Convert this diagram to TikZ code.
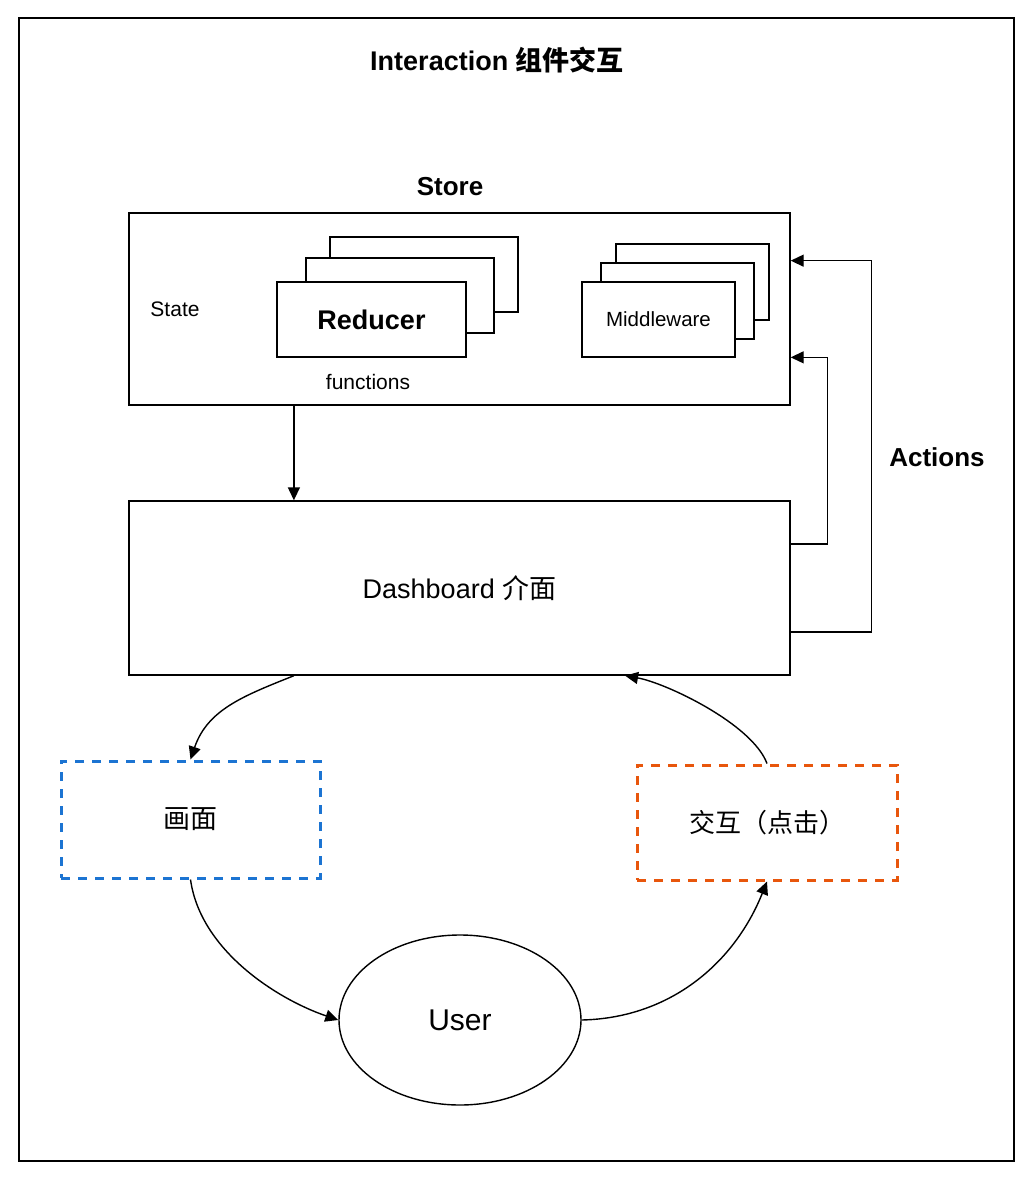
\documentclass[tikz,border=0pt]{standalone}
\usepackage{fontspec}
\setmainfont{Liberation Sans}
\newfontfamily\cjk{Noto Sans CJK SC}
\usepackage{tikz}
\usetikzlibrary{arrows.meta,shapes.geometric,calc}

\definecolor{viewblue}{RGB}{28,116,210}
\definecolor{clickorange}{RGB}{232,86,12}

\begin{document}
\begin{tikzpicture}[x=1pt, y=-1pt,
  box/.style={rectangle, draw, fill=white, line width=1.4pt, inner sep=0pt},
  dashbox/.style={rectangle, draw, dash pattern=on 9pt off 8pt, line width=3pt, inner sep=0pt, minimum width=259pt},
  arr/.style={-{Triangle[length=13pt,width=12pt]}, line width=1.4pt},
  big/.style={font=\fontsize{27}{31}\selectfont},
  small/.style={font=\fontsize{21}{25}\selectfont}]

\useasboundingbox (0,0) rectangle (1032,1186);
\draw[line width=1.5pt] (19,18) rectangle (1014,1161);

\draw
(497,60) node[font=\bfseries\fontsize{27}{31}\selectfont] (title){Interaction {\cjk 组件交互}}
(450,187) node[font=\bfseries\fontsize{26}{30}\selectfont] (storelabel){Store}
(459.5,309) node[box, minimum width=661pt, minimum height=192pt] (store){}
(175,309) node[small] (state){State}
(424,274.5) node[box, minimum width=188pt, minimum height=75pt] (reducerC){}
(400,295.5) node[box, minimum width=188pt, minimum height=75pt] (reducerB){}
(371.5,319.5) node[box, minimum width=189pt, minimum height=75pt, font=\bfseries\fontsize{27}{31}\selectfont] (reducer){Reducer}
(368,382) node[small] (functions){functions}
(692.5,282) node[box, minimum width=153pt, minimum height=76pt] (middleC){}
(677.5,301) node[box, minimum width=153pt, minimum height=76pt] (middleB){}
(658.5,319.5) node[box, minimum width=153pt, minimum height=75pt, font=\fontsize{20.5}{24}\selectfont] (middle){Middleware}
(459.5,588) node[box, big, minimum width=661pt, minimum height=174pt] (dash){Dashboard {\cjk 介面}}
(937,457) node[font=\bfseries\fontsize{26}{30}\selectfont] (actions){Actions}
(190.5,819.5) node[dashbox, viewblue, text=black, minimum height=117pt, big] (screen){\cjk 画面}
(767,822.5) node[dashbox, clickorange, text=black, minimum width=260pt, minimum height=115pt, font=\fontsize{26}{30}\selectfont] (click){\cjk 交互（点击）}
(460,1020) node[ellipse, draw, line width=1.4pt, minimum width=242pt, minimum height=170pt, inner sep=0pt, font=\fontsize{30}{34}\selectfont] (user){User};

% store -> dashboard
\draw[arr] ($(store.south west)!0.25!(store.south east)$) -- ($(dash.north west)!0.25!(dash.north east)$);

% actions back to the store
\draw[arr] ($(dash.north east)!0.75!(dash.south east)$) -- ++(81,0) |- ($(store.north east)!0.25!(store.south east)$);
\draw[arr] ($(dash.north east)!0.25!(dash.south east)$) -- ++(37,0) |- ($(store.north east)!0.75!(store.south east)$);

% the loop through the user
\draw[arr] ($(dash.south west)!0.25!(dash.south east)$) .. controls +(-50,20) and +(17,-50) .. (screen.north);
\draw[arr] (screen.south) .. controls +(10,72) and +(-59,-20) .. (user.west);
\draw[arr] (user.east) .. controls +(90,-2) and +(-32,80) .. (click.south);
\draw[arr] (click.north) .. controls +(-15,-40) and +(40,7) .. ($(dash.south west)!0.75!(dash.south east)$);

\end{tikzpicture}
\end{document}
